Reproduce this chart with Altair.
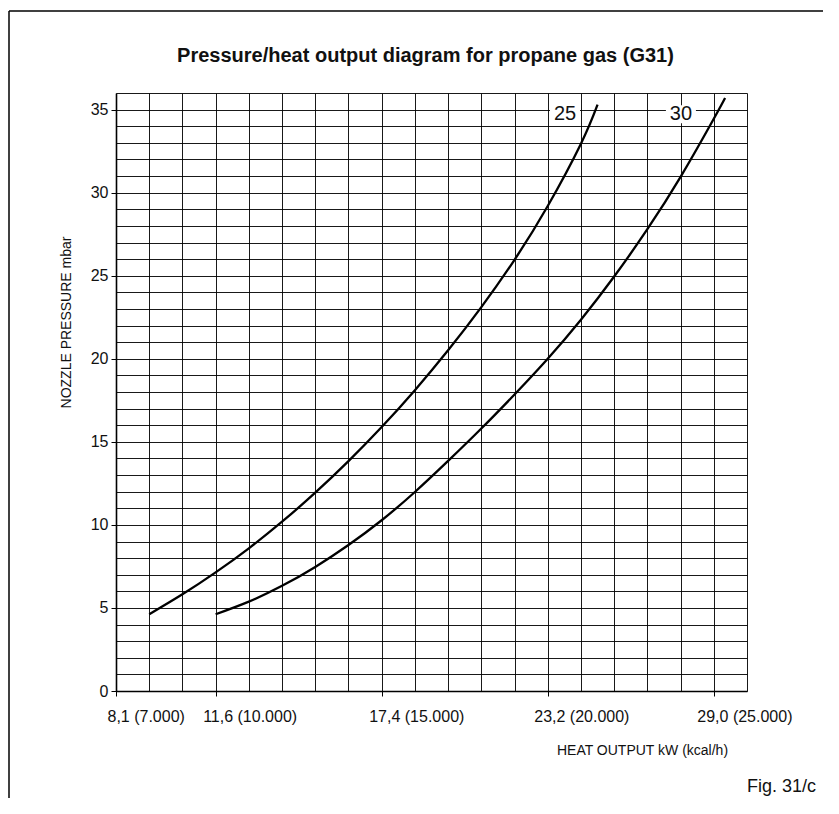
import altair as alt
import pandas as pd

# ---- data (heat output in kcal/h, nozzle pressure in mbar)
c25_kcal = [8000, 9000, 10000, 11000, 12000, 13000, 14000, 15000, 16000, 17000, 18000, 19000, 20000, 21000, 21500]
c25_mbar = [4.62, 5.82, 7.14, 8.59, 10.19, 11.94, 13.84, 15.89, 18.11, 20.51, 23.11, 25.96, 29.2, 32.95, 35.3]
c30_kcal = [10000, 11000, 12000, 13000, 14000, 15000, 16000, 17000, 18000, 19000, 20000, 21000, 22000, 23000, 24000, 25000, 25340]
c30_mbar = [4.62, 5.38, 6.33, 7.47, 8.79, 10.28, 11.98, 13.85, 15.8, 17.85, 20.0, 22.35, 24.95, 27.8, 30.95, 34.45, 35.7]

curve_names = ["25", "30"]
label_kcal = [20520, 24010]
label_mbar = [34.72, 34.72]

x_grid = list(range(7000, 26001, 1000))
x_tick_kcal = [7000, 10000, 15000, 20000, 25000]
x_tick_labels = ["8,1 (7.000)", "11,6 (10.000)", "17,4 (15.000)", "23,2 (20.000)", "29,0 (25.000)"]
x_label_shift = [-9, -13, -13, -14, -17]
y_grid = list(range(0, 37))

title_text = "Pressure/heat output diagram for propane gas (G31)"
x_title = "HEAT OUTPUT kW (kcal/h)"
y_title = "NOZZLE PRESSURE mbar"
caption_text = ["Fig. 31/c"]

rows = []
for name, ks, ms in [("25", c25_kcal, c25_mbar), ("30", c30_kcal, c30_mbar)]:
    for k, m in zip(ks, ms):
        rows.append({"series": name, "kcal": k, "mbar": m})
curves = pd.DataFrame(rows)
labels = pd.DataFrame({"name": curve_names, "kcal": label_kcal, "mbar": label_mbar})

FONT = "Liberation Sans"
INK = "#111111"
GRID = "#000000"

xscale = alt.Scale(domain=[7000, 26000], nice=False, zero=False)
yscale = alt.Scale(domain=[0, 36], nice=False, zero=False)

lab_expr = "''"
for v, t in reversed(list(zip(x_tick_kcal, x_tick_labels))):
    lab_expr = f"datum.value == {v} ? '{t}' : ({lab_expr})"
is_major_x = "indexof([" + ",".join(str(v) for v in x_tick_kcal) + "], datum.value) >= 0"

x_axis = alt.Axis(
    values=x_grid, grid=True, gridColor=GRID, gridWidth=1, gridOpacity=0.9,
    domain=True, domainColor="#000000", domainWidth=1.6,
    ticks=True, tickSize=5, tickColor="#000000", tickWidth=1,
    tickOpacity={"condition": {"test": is_major_x, "value": 1}, "value": 0},
    labelExpr=lab_expr, labelFont=FONT, labelFontSize=16, labelColor=INK,
    labelAlign="left", labelBaseline="top", labelPadding=12.5,
    labelOffset={"condition": [{"test": f"datum.value == {v}", "value": o}
                               for v, o in zip(x_tick_kcal, x_label_shift)], "value": 0},
    labelOverlap=False, labelFlush=False,
    title=x_title, titleFont=FONT, titleFontSize=14, titleFontWeight="normal", titleColor=INK,
    titleX=526, titleY=63.3, titleAlign="center", titleBaseline="alphabetic",
)

y_axis = alt.Axis(
    values=y_grid, grid=True, gridColor=GRID, gridWidth=1, gridOpacity=0.9,
    domain=True, domainColor="#000000", domainWidth=1.6,
    ticks=True, tickSize=5, tickColor="#000000", tickWidth=1,
    tickOpacity={"condition": {"test": "datum.value % 5 == 0", "value": 1}, "value": 0},
    labelExpr="datum.value % 5 == 0 ? datum.label : ''",
    labelFont=FONT, labelFontSize=16, labelColor=INK, labelPadding=3,
    labelBaseline="middle", labelOverlap=False, labelFlush=False,
    title=y_title, titleFont=FONT, titleFontSize=14, titleFontWeight="normal", titleColor=INK,
    titleX=-46, titleY=229, titleAngle=270, titleAlign="center", titleBaseline="alphabetic",
)

X = alt.X("kcal:Q", scale=xscale, axis=x_axis)
Y = alt.Y("mbar:Q", scale=yscale, axis=y_axis)

lines = alt.Chart(curves).mark_line(color="black", strokeWidth=2.3, interpolate="natural").encode(
    x=X, y=Y, detail="series:N",
)

box_path = "M-1.667,-1L1.667,-1L1.667,1L-1.667,1Z"
label_bg = alt.Chart(labels).mark_point(
    shape=box_path, size=324, filled=True, color="white", opacity=1, strokeWidth=0
).encode(x=X, y=Y)

label_txt = alt.Chart(labels).mark_text(
    font=FONT, fontSize=20, color=INK, align="center", baseline="middle"
).encode(x=X, y=Y, text="name:N")

one = pd.DataFrame({"k": [0]})
frame_left = alt.Chart(one).mark_rule(color="black", strokeWidth=1.5).encode(
    x=alt.value(-107), y=alt.value(-82), y2=alt.value(705)
)
frame_top = alt.Chart(one).mark_rule(color="black", strokeWidth=1.5).encode(
    x=alt.value(-107), x2=alt.value(707), y=alt.value(-82)
)

caption = alt.Chart(pd.DataFrame({"t": caption_text})).mark_text(
    font=FONT, fontSize=18, color=INK, align="right", baseline="alphabetic"
).encode(x=alt.value(700), y=alt.value(699.3), text="t:N")

chart = alt.layer(label_bg, lines, label_txt, frame_left, frame_top, caption).properties(
    width=631, height=598,
    title=alt.TitleParams(
        text=title_text, font=FONT, fontSize=20, fontWeight="bold", color=INK,
        anchor="middle", dx=-6, baseline="alphabetic", offset=-71.75,
    ),
    autosize=alt.AutoSizeParams(type="none"),
    padding={"left": 108, "top": 85, "right": 76, "bottom": 107},
).configure_view(strokeWidth=0)

chart.save("out.html", embed_options={"renderer": "svg", "actions": False})
